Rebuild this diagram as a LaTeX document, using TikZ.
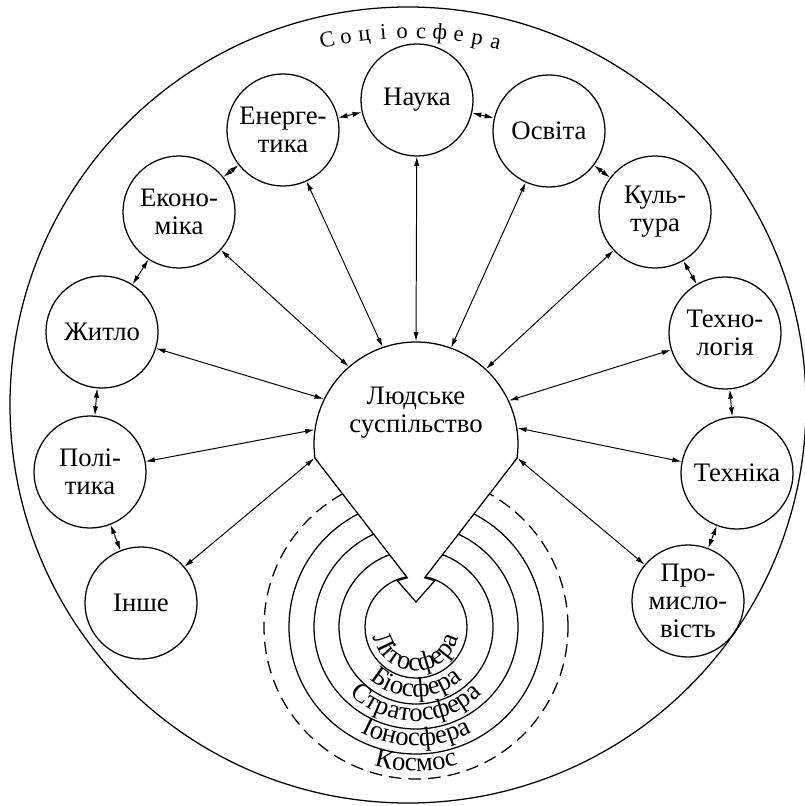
\documentclass[tikz,border=0pt]{standalone}
\usepackage{fontspec}
\setmainfont{Liberation Serif}
\usetikzlibrary{arrows.meta,decorations.text}

\begin{document}
\begin{tikzpicture}[x=0.025cm, y=0.025cm, line width=0.9pt,
    n/.style={circle,draw=black,minimum size=2.8cm,inner sep=0pt,align=center,
        font=\fontsize{19}{20}\selectfont},
    ar/.style={line width=0.7pt,{Latex[length=2.3mm,width=1.3mm]}-{Latex[length=2.3mm,width=1.3mm]}},
    lay/.style={decorate,decoration={text along path,text align=center,
        text={|\fontsize{19}{20}\selectfont|#1}}}]
    \useasboundingbox (0,0) rectangle (804,-806);

    \coordinate (bc) at (408,-405);
    \coordinate (cc) at (416,-627);

    % outer sphere
    \draw (bc) circle[radius=398];
    \foreach \ch [count=\i] in {С,о,ц,і,о,с,ф,е,р,а}
        \path (bc) ++({102.5-(\i-1)*2.9}:367)
            node[anchor=base,rotate={12.5-(\i-1)*2.9},font=\fontsize{16}{18}\selectfont] (soc\i) {\ch};

    % layers
    \foreach \r in {51,77,102,127}
        \draw (cc) circle[radius=\r];
    \draw[dash pattern=on 9pt off 5pt] (cc) circle[radius=152];

    \path[lay=Літосфера] (372,-627) arc[start angle=180,end angle=360,radius=44];
    \path[lay=Біосфера] (346,-627) arc[start angle=180,end angle=360,radius=70];
    \path[lay=Стратосфера] (322,-627) arc[start angle=180,end angle=360,radius=94];
    \path[lay=Іоносфера] (297,-627) arc[start angle=180,end angle=360,radius=119];
    \path[lay=Космос] (272,-627) arc[start angle=180,end angle=360,radius=144];

    % society
    \node[circle,minimum size=5.1cm,inner sep=0pt] (soc) at (416,-444) {};
    \path (cc) +(100:50) coordinate (pinl) +(80:50) coordinate (pinr)
        +(112:50) coordinate (vl) +(68:50) coordinate (vr) +(90:25) coordinate (vtip);
    \draw[fill=white] (soc.center) ++(188:102) arc[start angle=188,end angle=-8,radius=102]
        -- (pinr) -- (vr) -- (vtip) -- (vl) -- (pinl) -- cycle;
    \node[align=center,font=\fontsize{19}{20}\selectfont] (soclbl) at (416,-413) {Людське\\суспільство};

    \node[n] (nauka) at (417,-100) {Наука};
    \node[n] (energ) at (283,-130) {Енерге-\\тика};
    \node[n] (osvita) at (549,-131) {Освіта};
    \node[n] (ekon) at (179,-212) {Еконо-\\міка};
    \node[n] (kult) at (655,-212) {Куль-\\тура};
    \node[n] (zhytlo) at (102,-332) {Житло};
    \node[n] (tekhnol) at (725,-333) {Техно-\\логія};
    \node[n] (polit) at (90,-472) {Полі-\\тика};
    \node[n] (tekhn) at (737,-473) {Техніка};
    \node[n] (inshe) at (141,-603) {Інше};
    \node[n] (prom) at (688,-601) {Про-\\мисло-\\вість};

    \draw[ar] (nauka) to (soc.90);
    \draw[ar] (energ) to (soc.109);
    \draw[ar] (osvita) to (soc.70);
    \draw[ar] (ekon) to (soc.131);
    \draw[ar] (kult) to (soc.47);
    \draw[ar] (zhytlo) to (soc.154);
    \draw[ar] (tekhnol) to (soc.25);
    \draw[ar] (polit) to (soc.172);
    \draw[ar] (tekhn) to (soc.9);
    \draw[ar] (inshe) to (soc.188);
    \draw[ar] (prom) to (soc.-8);

    \draw[ar] (nauka) to (energ);
    \draw[ar] (nauka) to (osvita);
    \draw[ar] (energ) to (ekon);
    \draw[ar] (ekon) to (zhytlo);
    \draw[ar] (zhytlo) to (polit);
    \draw[ar] (polit) to (inshe);
    \draw[ar] (osvita) to (kult);
    \draw[ar] (kult) to (tekhnol);
    \draw[ar] (tekhnol) to (tekhn);
    \draw[ar] (tekhn) to (prom);
\end{tikzpicture}
\end{document}
